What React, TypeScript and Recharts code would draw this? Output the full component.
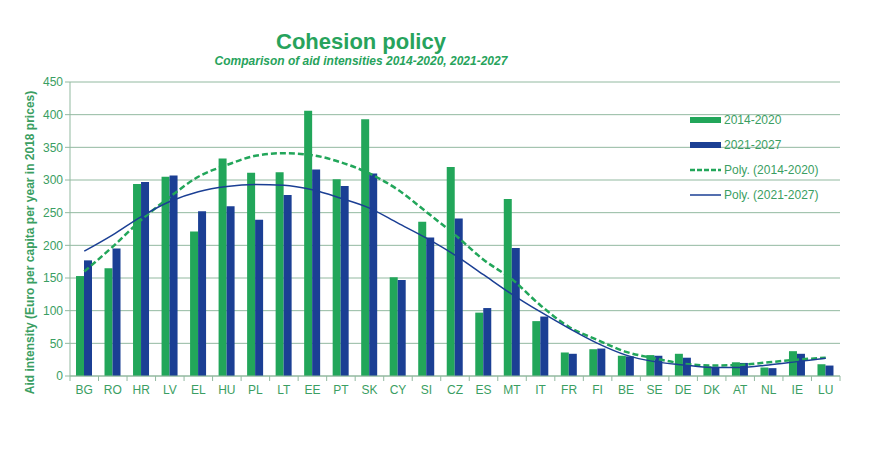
import React from "react";
import {
  ComposedChart, Bar, Line, XAxis, YAxis, CartesianGrid
} from "recharts";

const countries = [
  "BG", "RO", "HR", "LV", "EL", "HU", "PL", "LT", "EE", "PT", "SK", "CY", "SI", "CZ",
  "ES", "MT", "IT", "FR", "FI", "BE", "SE", "DE", "DK", "AT", "NL", "IE", "LU",
];
const aid2014 = [
  153, 165, 294, 305, 221, 333, 311, 312, 406, 301, 393, 151, 236, 320,
  97, 271, 84, 36, 41, 31, 32, 34, 15, 21, 13, 38, 18,
];
const aid2021 = [
  177, 195, 297, 307, 252, 260, 239, 277, 316, 291, 310, 147, 212, 241,
  104, 196, 91, 34, 42, 30, 31, 28, 14, 20, 12, 34, 16,
];
// trend lines
const poly2014 = [
  160, 198, 239, 274, 305, 323, 337, 341, 338, 327, 310, 285, 251, 216,
  178, 148, 108, 75, 55, 37, 27, 19, 16, 17, 21, 25, 28,
];
const poly2021 = [
  191, 216, 244, 267, 282, 290, 293, 292, 285, 272, 257, 234, 211, 185,
  155, 125, 98, 73, 50, 32, 22, 17, 13, 13, 17, 22, 27,
];
const yTicks = [0, 50, 100, 150, 200, 250, 300, 350, 400, 450];

const data = countries.map((c, i) => ({
  name: c,
  a2014: aid2014[i],
  a2021: aid2021[i],
  p2014: poly2014[i],
  p2021: poly2021[i],
}));

const GREEN = "#22a65a";
const BLUE = "#1b3f94";
const TEXT = "#3a9e62";
const GRID = "#92b9a0";
const FONT = "'Liberation Sans', Arial, sans-serif";
const BAND = 770 / 27;

const XTick = (props: any) => {
  const { x, y, payload } = props;
  return (
    <g>
      <line x1={x - BAND / 2} x2={x - BAND / 2} y1={376} y2={381} stroke={GRID} />
      {payload.index === countries.length - 1 && (
        <line x1={x + BAND / 2} x2={x + BAND / 2} y1={376} y2={381} stroke={GRID} />
      )}
      <text x={x} y={y + 10} textAnchor="middle" fill={TEXT} fontSize={12} fontFamily={FONT}>
        {payload.value}
      </text>
    </g>
  );
};

const LegendBox = () => {
  const rows = [
    { label: "2014-2020", kind: "bar", color: GREEN },
    { label: "2021-2027", kind: "bar", color: BLUE },
    { label: "Poly. (2014-2020)", kind: "dash", color: GREEN },
    { label: "Poly. (2021-2027)", kind: "line", color: BLUE },
  ];
  return (
    <svg width={170} height={100} style={{ position: "absolute", left: 688, top: 112 }}>
      {rows.map((r, i) => {
        const cy = 8 + i * 25;
        return (
          <g key={r.label}>
            {r.kind === "bar" && <rect x={2} y={cy - 3} width={31} height={6} fill={r.color} />}
            {r.kind === "dash" && (
              <line x1={2} x2={33} y1={cy} y2={cy} stroke={r.color} strokeWidth={2.5} strokeDasharray="5 2" />
            )}
            {r.kind === "line" && (
              <line x1={2} x2={33} y1={cy} y2={cy} stroke={r.color} strokeWidth={1.5} />
            )}
            <text x={36} y={cy + 4} fill={TEXT} fontSize={12} fontFamily={FONT}>{r.label}</text>
          </g>
        );
      })}
    </svg>
  );
};

export default function App() {
  return (
    <div style={{ position: "absolute", left: 0, top: 0, width: 875, height: 466, background: "#fff" }}>
      <ComposedChart
        width={875}
        height={466}
        data={data}
        margin={{ top: 82, right: 35, left: 0, bottom: 60 }}
        barSize={8}
        barGap={0}
        style={{ position: "absolute", left: 0, top: 0 }}
      >
        <CartesianGrid vertical={false} stroke={GRID} />
        <XAxis
          dataKey="name"
          interval={0}
          tickLine={false}
          axisLine={{ stroke: GRID }}
          tick={<XTick />}
          height={30}
        />
        <YAxis
          domain={[0, 450]}
          ticks={yTicks}
          width={70}
          tickSize={5}
          tickLine={{ stroke: GRID }}
          axisLine={{ stroke: GRID }}
          tick={{ fill: TEXT, fontSize: 12, fontFamily: FONT }}
        />
        <Bar dataKey="a2014" fill={GREEN} isAnimationActive={false} />
        <Bar dataKey="a2021" fill={BLUE} isAnimationActive={false} />
        <Line
          dataKey="p2014"
          type="monotone"
          stroke={GREEN}
          strokeWidth={2.5}
          strokeDasharray="6 3"
          dot={false}
          isAnimationActive={false}
        />
        <Line
          dataKey="p2021"
          type="monotone"
          stroke={BLUE}
          strokeWidth={1.5}
          dot={false}
          isAnimationActive={false}
        />
      </ComposedChart>
      <LegendBox />
      <svg width={50} height={466} style={{ position: "absolute", left: 0, top: 0 }}>
        <text
          transform="translate(34,242.5) rotate(-90)"
          textAnchor="middle"
          fill={TEXT}
          fontSize={12}
          fontWeight="bold"
          fontFamily={FONT}
        >
          Aid intensity (Euro per capita per year in 2018 prices)
        </text>
      </svg>
      <div style={{ position: "absolute", left: 0, width: 722, top: 30, textAlign: "center", fontFamily: FONT, color: "#27a35c" }}>
        <div style={{ fontSize: 22, fontWeight: "bold", lineHeight: "24px" }}>Cohesion policy</div>
        <div style={{ fontSize: 12, fontWeight: "bold", fontStyle: "italic", lineHeight: "14px" }}>
          Comparison of aid intensities 2014-2020, 2021-2027
        </div>
      </div>
    </div>
  );
}
